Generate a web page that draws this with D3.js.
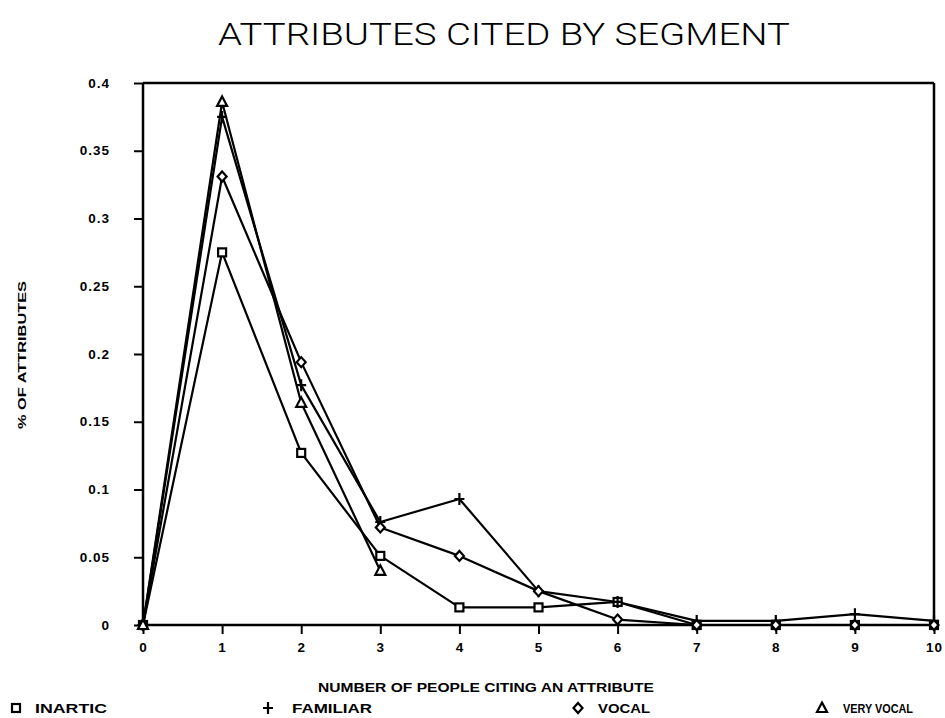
<!DOCTYPE html>
<html>
<head>
<meta charset="utf-8">
<script src="https://cdn.jsdelivr.net/npm/d3@7"></script>
<style>
  html, body { margin: 0; padding: 0; background: #fff; }
  svg { display: block; }
  text { fill: #000; }
</style>
</head>
<body>
<svg id="chart" width="945" height="718"></svg>
<script>
// Number of people citing an attribute (x axis)
const counts = [0, 1, 2, 3, 4, 5, 6, 7, 8, 9, 10];

// Share of attributes cited, per segment
const inartic   = [0, 0.275, 0.127, 0.051, 0.013, 0.013, 0.017, 0, 0, 0, 0];
const familiar  = [0, 0.375, 0.177, 0.076, 0.093, 0.025, 0.017, 0.003, 0.003, 0.008, 0.003];
const vocal     = [0, 0.331, 0.194, 0.072, 0.051, 0.025, 0.004, 0, 0, 0, 0];
const veryVocal = [0, 0.386, 0.164, 0.040];

const segmentNames = ["INARTIC", "FAMILIAR", "VOCAL", "VERY VOCAL"];
const yTicks = [0, 0.05, 0.1, 0.15, 0.2, 0.25, 0.3, 0.35, 0.4];
const xTicks = counts;

const series = [
  { name: segmentNames[0], values: inartic,   symbol: "square" },
  { name: segmentNames[1], values: familiar,  symbol: "plus" },
  { name: segmentNames[2], values: vocal,     symbol: "diamond" },
  { name: segmentNames[3], values: veryVocal, symbol: "triangle" }
];

const svg = d3.select("#chart");
const x = d3.scaleLinear().domain([0, 10]).range([143, 934]);
const y = d3.scaleLinear().domain([0, 0.4]).range([625, 83]);

// Title
svg.append("text")
  .attr("x", 504).attr("y", 45)
  .attr("text-anchor", "middle")
  .attr("font-family", "Roboto")
  .attr("font-weight", 300)
  .attr("font-size", 31)
  .attr("textLength", 572)
  .attr("lengthAdjust", "spacingAndGlyphs")
  .text("ATTRIBUTES CITED BY SEGMENT");

// Frame: top and right edges
svg.append("line")
  .attr("x1", x(0)).attr("x2", x(10))
  .attr("y1", y(0.4)).attr("y2", y(0.4))
  .attr("stroke", "#000").attr("stroke-width", 2.5);
svg.append("line")
  .attr("x1", x(10)).attr("x2", x(10))
  .attr("y1", y(0.4)).attr("y2", y(0))
  .attr("stroke", "#000").attr("stroke-width", 2.5);

// Axes
const fmt = d => d === 0 ? "0" : String(+d.toFixed(2));
const yAxis = svg.append("g")
  .attr("transform", `translate(${x(0)},0)`)
  .call(d3.axisLeft(y).tickValues(yTicks).tickSize(9).tickPadding(24).tickFormat(fmt));
const xAxis = svg.append("g")
  .attr("transform", `translate(0,${y(0)})`)
  .call(d3.axisBottom(x).tickValues(xTicks).tickSize(9).tickPadding(8).tickFormat(d3.format("d")));

[yAxis, xAxis].forEach(g => {
  g.select(".domain").attr("stroke", "#000").attr("stroke-width", 2.5);
  g.selectAll(".tick line").attr("stroke", "#000").attr("stroke-width", 2);
  g.selectAll(".tick text")
    .attr("font-family", "Liberation Sans")
    .attr("font-weight", "bold")
    .attr("font-size", 13.5)
    .attr("letter-spacing", 1);
});
yAxis.selectAll(".tick text").attr("dy", "0.3em");
xAxis.select(".domain").attr("d", `M${x(0)},0H${x(10)}`);
yAxis.select(".domain").attr("d", `M0,${y(0.4)}V${y(0)}`);

// Axis titles
svg.append("text")
  .attr("transform", `translate(26,355) rotate(-90)`)
  .attr("text-anchor", "middle")
  .attr("font-family", "Liberation Sans")
  .attr("font-weight", "bold")
  .attr("font-size", 11.5)
  .attr("textLength", 148)
  .attr("lengthAdjust", "spacingAndGlyphs")
  .text("% OF ATTRIBUTES");

svg.append("text")
  .attr("x", 486).attr("y", 692)
  .attr("text-anchor", "middle")
  .attr("font-family", "Liberation Sans")
  .attr("font-weight", "bold")
  .attr("font-size", 12)
  .attr("textLength", 336)
  .attr("lengthAdjust", "spacingAndGlyphs")
  .text("NUMBER OF PEOPLE CITING AN ATTRIBUTE");

// Marker drawing
function drawMarker(g, symbol, cx, cy) {
  const s = 4;
  if (symbol === "square") {
    g.append("rect")
      .attr("x", cx - s).attr("y", cy - s)
      .attr("width", 2 * s).attr("height", 2 * s)
      .attr("fill", "#fff").attr("stroke", "#000").attr("stroke-width", 2.2);
  } else if (symbol === "plus") {
    g.append("path")
      .attr("d", `M${cx - 5},${cy}H${cx + 5}M${cx},${cy - 6}V${cy + 6}`)
      .attr("fill", "none").attr("stroke", "#000").attr("stroke-width", 2.2);
  } else if (symbol === "diamond") {
    g.append("path")
      .attr("d", `M${cx},${cy - 5}L${cx + 4.5},${cy}L${cx},${cy + 5}L${cx - 4.5},${cy}Z`)
      .attr("fill", "#fff").attr("stroke", "#000").attr("stroke-width", 2.2);
  } else if (symbol === "triangle") {
    g.append("path")
      .attr("d", `M${cx},${cy - 5.5}L${cx + 5},${cy + 4}L${cx - 5},${cy + 4}Z`)
      .attr("fill", "#fff").attr("stroke", "#000").attr("stroke-width", 2.2);
  }
}

const line = d3.line()
  .x((d, i) => x(counts[i]))
  .y(d => y(d));

const plot = svg.append("g");
series.forEach(s => {
  plot.append("path")
    .attr("d", line(s.values))
    .attr("fill", "none")
    .attr("stroke", "#000")
    .attr("stroke-width", 2.2)
    .attr("stroke-linejoin", "round");
});
series.forEach(s => {
  const g = plot.append("g");
  s.values.forEach((v, i) => drawMarker(g, s.symbol, x(counts[i]), y(v)));
});

// Legend
const legendPos = [
  { mx: 16,  tx: 35 },
  { mx: 268, tx: 292 },
  { mx: 578, tx: 598 },
  { mx: 822, tx: 843 }
];
const legendWidths = [72, 80, 52, 70];
series.forEach((s, i) => {
  const g = svg.append("g");
  drawMarker(g, s.symbol, legendPos[i].mx, 708);
  g.append("text")
    .attr("x", legendPos[i].tx).attr("y", 712.5)
    .attr("font-family", "Liberation Sans")
    .attr("font-weight", "bold")
    .attr("font-size", 12)
    .attr("textLength", legendWidths[i])
    .attr("lengthAdjust", "spacingAndGlyphs")
    .text(s.name);
});
</script>
</body>
</html>
